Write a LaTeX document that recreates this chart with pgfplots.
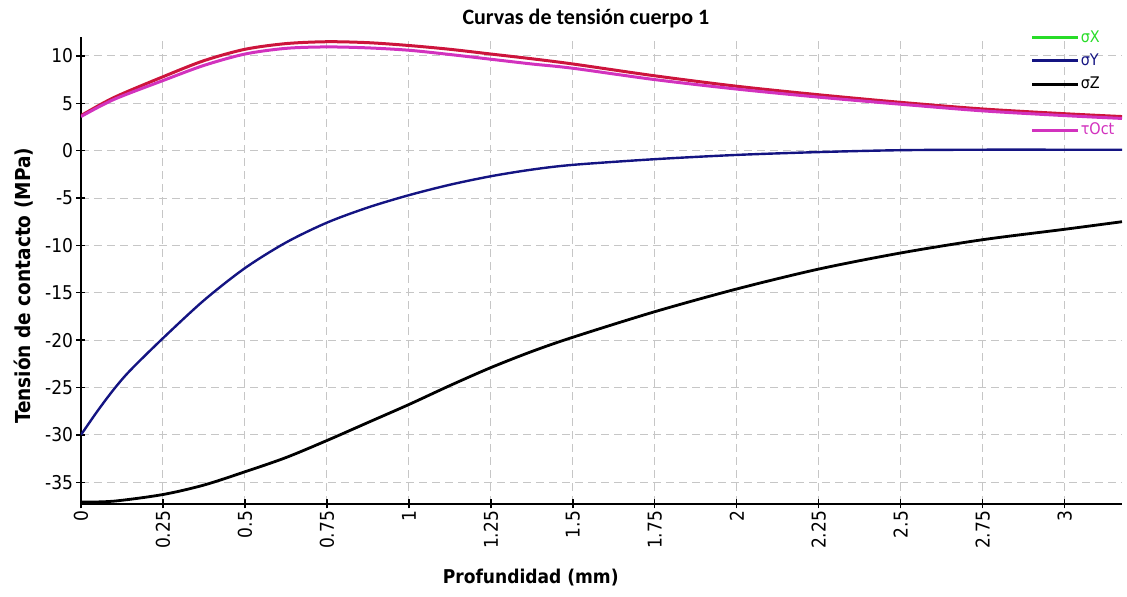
\documentclass[border=0pt]{standalone}
\usepackage{fontspec}
\setmainfont{DejaVu Sans Condensed}
\newfontfamily\titlefont{Carlito}
\usepackage{pgfplots}
\pgfplotsset{compat=1.18}
\definecolor{cX}{RGB}{40,220,40}
\definecolor{cY}{RGB}{20,20,130}
\definecolor{cZ}{RGB}{0,0,0}
\definecolor{cR}{RGB}{205,20,60}
\definecolor{cO}{RGB}{210,50,190}
\begin{document}
\begin{tikzpicture}
\useasboundingbox (-40.5pt,-46.5pt) rectangle (523pt,252pt);
\begin{axis}[
  at={(0,0)}, anchor=south west,
  scale only axis, width=520.5pt, height=233.5pt,
  xmin=0, xmax=3.175, ymin=-37.3, ymax=12,
  axis lines=left, axis line style={-, line width=0.75pt},
  xtick={0,0.25,...,3}, ytick={-35,-30,...,10},
  tick align=center, major tick length=4.5pt,
  tick style={line width=0.7pt, black},
  grid=major, grid style={dashed, gray!45, line width=0.5pt, dash pattern=on 4pt off 2.5pt},
  /pgf/number format/assume math mode=true,
  ticklabel style={font=\fontsize{9.5}{11}\selectfont},
  xticklabel style={rotate=90, anchor=east, inner sep=1pt},
  yticklabel style={inner sep=1.5pt},
  xlabel={\textbf{Profundidad (mm)}},
  ylabel={\textbf{Tensión de contacto (MPa)}},
  xlabel style={font=\fontsize{9.5}{11}\selectfont, at={(axis description cs:0.432,0)}, anchor=center, yshift=-37pt},
  ylabel style={font=\fontsize{10.3}{12}\selectfont, at={(axis description cs:-0.055,0.467)}, anchor=center},
  title={\titlefont\bfseries Curvas de tensión cuerpo 1},
  title style={at={(axis description cs:0.485,1)}, anchor=center, yshift=3pt, font=\fontsize{11}{13}\selectfont},
  legend style={draw=none, fill=none, at={(axis description cs:0.912,1.017)}, anchor=north west,
    font=\fontsize{8}{9}\selectfont, inner sep=0pt, row sep=3.25pt,
    nodes={inner sep=0.5pt, anchor=west}},
  legend cell align=left,
  legend image code/.code={\draw[line width=1.5pt, #1] (0pt,0pt) -- (23pt,0pt);},
]
\addplot[cR, line width=1.5pt, smooth, forget plot] coordinates {
(0,3.7) (0.1,5.6) (0.25,7.8) (0.375,9.5) (0.5,10.7) (0.625,11.3) (0.75,11.5) (0.875,11.4)
(1.0,11.1) (1.125,10.7) (1.25,10.2) (1.375,9.7) (1.5,9.15) (1.75,7.9) (2.0,6.8) (2.25,5.9)
(2.5,5.1) (2.75,4.4) (3.0,3.9) (3.175,3.6)};
\addplot[cO, line width=1.5pt, smooth, forget plot] coordinates {
(0,3.6) (0.1,5.4) (0.25,7.4) (0.375,9.0) (0.5,10.2) (0.625,10.8) (0.75,10.95) (0.875,10.85)
(1.0,10.6) (1.125,10.15) (1.25,9.65) (1.375,9.15) (1.5,8.7) (1.75,7.5) (2.0,6.5) (2.25,5.65)
(2.5,4.9) (2.75,4.2) (3.0,3.7) (3.175,3.4)};
\addplot[cY, line width=1.2pt, smooth, forget plot] coordinates {
(0,-30) (0.05,-27.5) (0.1,-25.2) (0.15,-23.2) (0.25,-19.8) (0.375,-15.8) (0.5,-12.4)
(0.625,-9.7) (0.75,-7.6) (0.875,-6.0) (1.0,-4.7) (1.125,-3.6) (1.25,-2.7) (1.375,-2.0)
(1.5,-1.5) (1.75,-0.9) (2.0,-0.45) (2.25,-0.15) (2.5,0.05) (2.75,0.1) (3.0,0.1) (3.175,0.1)};
\addplot[cZ, line width=1.4pt, smooth, forget plot] coordinates {
(0,-37.1) (0.1,-37.0) (0.25,-36.3) (0.375,-35.3) (0.5,-33.9) (0.625,-32.4) (0.75,-30.6)
(0.875,-28.7) (1.0,-26.8) (1.125,-24.8) (1.25,-22.9) (1.375,-21.2) (1.5,-19.7) (1.75,-17.0)
(2.0,-14.6) (2.25,-12.5) (2.5,-10.8) (2.75,-9.4) (3.0,-8.3) (3.175,-7.5)};
\addlegendimage{color=cX}
\addlegendentry[text=cX]{σX}
\addlegendimage{color=cY}
\addlegendentry[text=cY]{σY}
\addlegendimage{color=cZ}
\addlegendentry[text=cZ]{σZ}
\addlegendimage{legend image code/.code={}}
\addlegendentry{\vphantom{X}}
\addlegendimage{color=cO}
\addlegendentry[text=cO]{τOct}
\end{axis}
\end{tikzpicture}
\end{document}
